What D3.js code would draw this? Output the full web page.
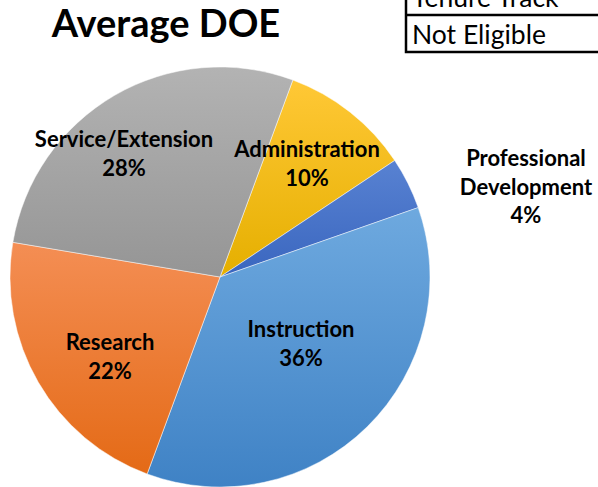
<!DOCTYPE html>
<html>
<head>
<meta charset="utf-8">
<script src="https://cdn.jsdelivr.net/npm/d3@7"></script>
<style>
  html, body { margin: 0; padding: 0; background: #fff; }
  svg { display: block; }
  text { font-family: Lato, "Open Sans", sans-serif; }
</style>
</head>
<body>
<svg id="chart" width="598" height="487"></svg>
<script>
// ---- data ----
const categories = ["Administration", "Professional Development", "Instruction", "Research", "Service/Extension"];
const labelLines = [["Administration"], ["Professional", "Development"], ["Instruction"], ["Research"], ["Service/Extension"]];
const values = [10, 4, 36, 22, 28];
const tableRows = ["Tenure Track", "Not Eligible"];
const title = "Average DOE";

// ---- styles ----
const gradTop = ["#FFC836", "#5882D2", "#6EA9DF", "#F48E54", "#B3B3B3"];
const gradBot = ["#E5AF00", "#3A66BF", "#3F82C5", "#E46A16", "#959595"];

const svg = d3.select("#chart");
const cx = 220, cy = 277, R = 210;
const startDeg = 20.3;

const defs = svg.append("defs");
categories.forEach((c, i) => {
  const g = defs.append("linearGradient").attr("id", "g" + i)
    .attr("x1", 0).attr("y1", 0).attr("x2", 0).attr("y2", 1);
  g.append("stop").attr("offset", "0%").attr("stop-color", gradTop[i]);
  g.append("stop").attr("offset", "100%").attr("stop-color", gradBot[i]);
});

const pie = d3.pie().sort(null).value(d => d)
  .startAngle(startDeg * Math.PI / 180)
  .endAngle(startDeg * Math.PI / 180 + 2 * Math.PI);
const arcs = pie(values);
const arc = d3.arc().innerRadius(0).outerRadius(R);

const gPie = svg.append("g").attr("transform", `translate(${cx},${cy})`);
gPie.selectAll("path").data(arcs).join("path")
  .attr("d", arc)
  .attr("fill", (d, i) => `url(#g${i})`)
  .attr("stroke", "#ffffff")
  .attr("stroke-opacity", 0.6)
  .attr("stroke-width", 0.8);

// label positions (centre x, first baseline y)
const labelPos = [[307, 157], [526, 166], [301, 337], [110, 350], [124, 147]];
const lineH = 28.5;
const fmt = d3.format(".0%");
const total = d3.sum(values);
categories.forEach((c, i) => {
  const lines = labelLines[i].concat([fmt(values[i] / total)]);
  const t = svg.append("text")
    .attr("text-anchor", "middle")
    .attr("font-weight", "bold")
    .attr("font-size", 22)
    .attr("fill", "#000");
  lines.forEach((l, k) => {
    t.append("tspan").attr("x", labelPos[i][0]).attr("y", labelPos[i][1] + k * lineH).text(l);
  });
});

// title
svg.append("text").attr("x", 166).attr("y", 37)
  .attr("text-anchor", "middle").attr("font-weight", "bold")
  .attr("font-size", 38).text(title);

// table box (partially off-screen)
const tx = 406, rowH = 37, tBottom = 52;
const tb = svg.append("g");
tb.append("rect").attr("x", tx).attr("y", tBottom - 2 * rowH).attr("width", 260).attr("height", 2 * rowH)
  .attr("fill", "#fff").attr("stroke", "#000").attr("stroke-width", 2.5);
tb.append("line").attr("x1", tx).attr("x2", tx + 260).attr("y1", tBottom - rowH).attr("y2", tBottom - rowH)
  .attr("stroke", "#000").attr("stroke-width", 2.5);
tableRows.forEach((r, i) => {
  tb.append("text").attr("x", tx + 6).attr("y", tBottom - 2 * rowH + (i + 1) * rowH - 8)
    .attr("font-size", 26.5).text(r);
});
</script>
</body>
</html>
